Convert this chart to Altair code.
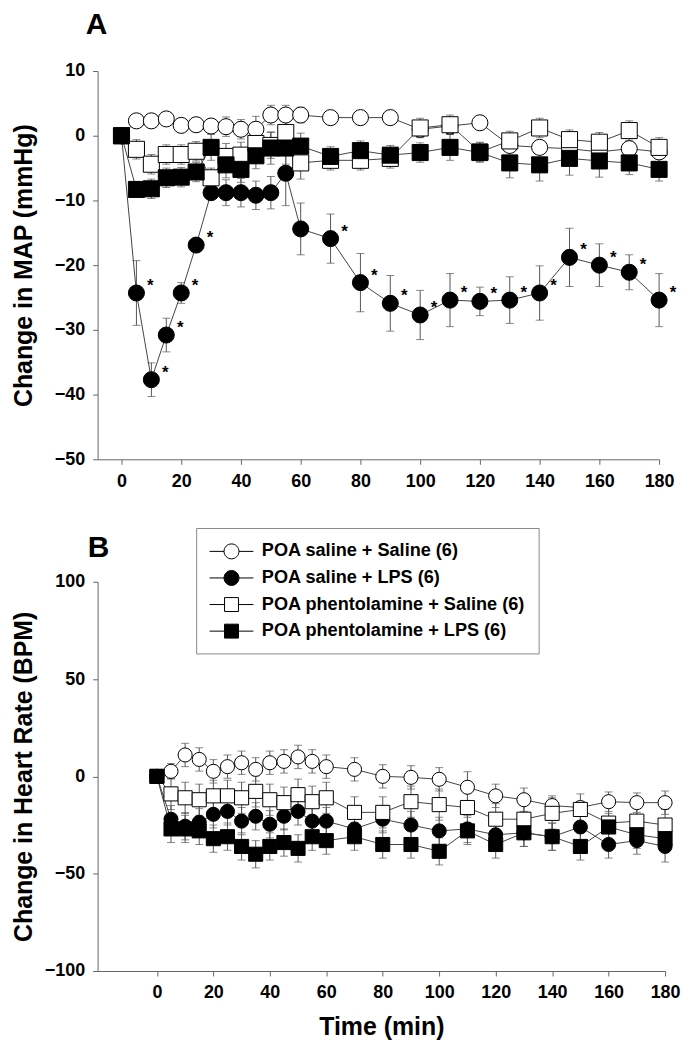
import altair as alt
import pandas as pd

# ---------------- data ----------------
times = [0, 5, 10, 15, 20, 25, 30, 35, 40, 45, 50, 55, 60,
         70, 80, 90, 100, 110, 120, 130, 140, 150, 160, 170, 180]

series_names = ["POA saline + Saline (6)", "POA saline  + LPS (6)",
                "POA phentolamine + Saline (6)", "POA phentolamine + LPS (6)"]

# Panel A: change in MAP (mmHg)
map_sal_sal = [0, 2.3, 2.3, 2.6, 1.6, 1.7, 1.5, 1.4, 1.0, 1.0, 3.2, 3.2, 3.2,
               2.8, 2.8, 2.8, 1.0, 1.5, 2.0, -1.5, -1.8, -2.0, -2.5, -2.0, -2.5]
map_sal_sal_sem = [0, 0.8, 0.8, 0.8, 0.8, 1.0, 1.0, 1.5, 1.5, 2.0, 1.5, 1.5, 1.2,
                   1.0, 1.0, 1.0, 1.2, 1.2, 1.0, 1.0, 1.0, 1.0, 1.0, 1.0, 1.0]
map_sal_lps = [0, -24.3, -37.7, -30.8, -24.3, -16.9, -8.8, -8.8, -8.8, -9.2, -8.8, -5.8, -14.4,
               -15.9, -22.7, -25.9, -27.7, -25.4, -25.6, -25.4, -24.3, -18.8, -20.0, -21.1, -25.4]
map_sal_lps_sem = [0, 5.0, 2.6, 2.6, 1.6, 0.6, 1.0, 2.0, 2.2, 2.2, 2.5, 5.0, 4.0,
                   3.8, 4.5, 4.3, 3.8, 4.1, 2.2, 3.6, 4.2, 4.5, 3.3, 2.7, 4.1]
map_pht_sal = [0, -2.1, -4.4, -2.9, -2.9, -2.4, -6.5, -3.2, -3.0, -1.2, -1.5, 0.5, -4.2,
               -3.8, -3.8, -3.5, 1.2, 1.7, -2.5, -0.8, 1.2, -0.6, -1.0, 0.8, -1.8]
map_pht_sal_sem = [0, 1.5, 1.5, 1.5, 1.5, 1.5, 1.5, 2.0, 2.0, 2.0, 2.0, 2.0, 2.5,
                   1.5, 1.5, 1.5, 1.5, 1.5, 1.5, 1.5, 1.5, 1.5, 1.5, 1.5, 1.5]
map_pht_lps = [0, -8.3, -8.2, -6.5, -6.4, -5.6, -1.8, -4.5, -5.2, -3.1, -1.9, -1.9, -1.6,
               -3.2, -2.3, -3.0, -2.6, -1.8, -2.6, -4.2, -4.5, -3.5, -3.9, -4.2, -5.2]
map_pht_lps_sem = [0, 1.2, 1.5, 1.5, 1.5, 1.5, 2.0, 2.0, 2.0, 2.0, 2.5, 2.5, 2.0,
                   1.5, 1.5, 1.5, 1.5, 2.0, 1.5, 2.3, 2.5, 2.6, 2.5, 1.8, 1.8]
star_times = [5, 10, 15, 20, 25, 70, 80, 90, 100, 110, 120, 130, 140, 150, 160, 170, 180]

# Panel B: change in heart rate (BPM)
hr_sal_sal = [0, 2.6, 11, 8.7, 2.6, 5, 7, 3.6, 7, 7.7, 10, 7.7, 5,
              3.6, 0, -0.5, -1.5, -5.6, -10, -12, -15, -16, -13, -13.5, -13.5]
hr_sal_sal_sem = [0, 4, 6, 6, 6, 6, 6, 6, 6, 6, 6, 6, 6,
                  6, 6, 6, 6, 8, 6, 6, 5, 3, 5, 5, 6]
hr_sal_lps = [0, -22, -25.6, -23.6, -19.5, -18, -23, -20.5, -24.6, -20.5, -18, -23, -23,
              -27, -22, -25, -28, -27, -30, -29, -31, -26, -35, -33, -36]
hr_sal_lps_sem = [0, 7, 7, 7, 7, 7, 7, 7, 7, 7, 7, 7, 7,
                  7, 7, 7, 7, 7, 7, 7, 7, 7, 7, 7, 8]
hr_pht_sal = [0, -9, -11, -12, -10, -10, -11, -7.7, -12, -13.5, -9.4, -13, -11,
              -18.5, -18.5, -13, -14.5, -16, -22, -22, -19, -17, -24, -23, -25]
hr_pht_sal_sem = [0, 8, 8, 8, 8, 8, 8, 8, 8, 8, 8, 8, 8,
                  8, 8, 8, 8, 8, 8, 8, 8, 8, 8, 8, 8]
hr_pht_lps = [0, -27, -27, -28, -32, -31, -36, -40, -36, -34, -37, -31, -33,
              -31, -35, -35, -38.5, -28, -35, -29, -31, -36, -26, -30, -32]
hr_pht_lps_sem = [0, 7, 7, 7, 7, 7, 7, 7, 7, 7, 7, 7, 7,
                  7, 7, 7, 7, 7, 7, 7, 7, 7, 7, 7, 7]

x_ticks = [0, 20, 40, 60, 80, 100, 120, 140, 160, 180]
yA_ticks = [-50, -40, -30, -20, -10, 0, 10]
yB_ticks = [-100, -50, 0, 50, 100]


def build_df(values, sems):
    rows = []
    for name, vals, ss in zip(series_names, values, sems):
        for t, v, s in zip(times, vals, ss):
            rows.append({"series": name, "time": t, "value": v,
                         "lo": v - s, "hi": v + s})
    return pd.DataFrame(rows)


dfA = build_df([map_sal_sal, map_sal_lps, map_pht_sal, map_pht_lps],
               [map_sal_sal_sem, map_sal_lps_sem, map_pht_sal_sem, map_pht_lps_sem])
dfB = build_df([hr_sal_sal, hr_sal_lps, hr_pht_sal, hr_pht_lps],
               [hr_sal_sal_sem, hr_sal_lps_sem, hr_pht_sal_sem, hr_pht_lps_sem])
dfA["ord"] = range(len(dfA))
dfB["ord"] = range(len(dfB))
df_star = dfA[(dfA["series"] == series_names[1]) & (dfA["time"].isin(star_times))]

FONT = "Liberation Sans"
shapes = ["circle", "circle", "square", "square"]
fills = ["white", "black", "white", "black"]
strokes = ["black", "black", "black", "black"]
legend_shapes = [
    "M-2.2,0H-0.75M0.75,0H2.2M-0.75,0A0.75,0.75 0 1,0 0.75,0A0.75,0.75 0 1,0 -0.75,0Z",
    "M-2.2,0H-0.75M0.75,0H2.2M-0.75,0A0.75,0.75 0 1,0 0.75,0A0.75,0.75 0 1,0 -0.75,0Z",
    "M-2.2,0H-0.7M0.7,0H2.2M-0.7,-0.7H0.7V0.7H-0.7Z",
    "M-2.2,0H-0.7M0.7,0H2.2M-0.7,-0.7H0.7V0.7H-0.7Z",
]


def panel(df, xdomain, ydomain, yticks, ytitle, ytpad, xtitle, sizes):
    xenc = alt.X("time:Q", scale=alt.Scale(domain=xdomain, nice=False, zero=False),
                 axis=alt.Axis(values=x_ticks, title=xtitle, grid=False,
                               labelFlush=False, titlePadding=13))
    yscale = alt.Scale(domain=ydomain, nice=False, zero=False)
    yenc = alt.Y("value:Q", scale=yscale,
                 axis=alt.Axis(values=yticks, title=ytitle, grid=False,
                               titlePadding=ytpad))
    base = alt.Chart(df)
    err = base.mark_rule(color="#555555", strokeWidth=1).encode(
        x=xenc, y=alt.Y("lo:Q", scale=yscale), y2="hi:Q", detail="series:N")
    cap_hi = base.mark_tick(color="#555555", thickness=1, size=8, orient="horizontal").encode(
        x=xenc, y=alt.Y("hi:Q", scale=yscale), detail="series:N")
    cap_lo = base.mark_tick(color="#555555", thickness=1, size=8, orient="horizontal").encode(
        x=xenc, y=alt.Y("lo:Q", scale=yscale), detail="series:N")
    line = base.mark_line(color="#444444", strokeWidth=1).encode(
        x=xenc, y=yenc, detail="series:N", order="time:Q")
    pts = base.mark_point(stroke="black", strokeWidth=1, opacity=1).encode(
        x=xenc, y=yenc,
        shape=alt.Shape("series:N", scale=alt.Scale(domain=series_names, range=shapes), legend=None),
        fill=alt.Fill("series:N", scale=alt.Scale(domain=series_names, range=fills), legend=None),
        size=alt.Size("series:N", scale=alt.Scale(domain=series_names, range=sizes), legend=None),
        order=alt.Order("ord:Q"),
    )
    return [err, cap_hi, cap_lo, line, pts], xenc, yenc


layersA, xA, yA = panel(dfA, [-8, 180], [-50, 10], yA_ticks,
                        "Change in MAP (mmHg)", 18, None, [260, 260, 190, 190])
stars = alt.Chart(df_star).mark_text(text="*", dx=14, dy=-7, fontSize=17,
                                     fontWeight="bold", font=FONT, color="black").encode(
    x=xA, y=yA)
panelA = alt.layer(*layersA, stars).properties(
    width=564, height=390,
    title=alt.TitleParams("A", anchor="start", frame="group", fontSize=30,
                          fontWeight="bold", font=FONT, dx=-12, offset=22, color="black"),
)

layersB, xB, yB = panel(dfB, [-21, 180], [-100, 100], yB_ticks,
                        "Change in Heart Rate (BPM)", 8, "Time (min)", [200, 200, 180, 180])
leg_props = dict(title=None, orient="none", legendX=99, legendY=-54,
                 strokeColor="#888888", fillColor="white", padding=13,
                 rowPadding=6.7, symbolSize=400, symbolOffset=12, labelOffset=20,
                 labelLimit=0, labelFontSize=18.2, labelFontWeight="bold", labelFont=FONT,
                 labelColor="black", symbolStrokeColor="black", symbolStrokeWidth=1,
                 symbolOpacity=1)
legend_layer = alt.Chart(dfB).transform_filter("false").mark_point(
    strokeWidth=1, opacity=1).encode(
    x=xB, y=yB,
    shape=alt.Shape("series:N", scale=alt.Scale(domain=series_names, range=legend_shapes),
                    legend=alt.Legend(**leg_props)),
    fill=alt.Fill("series:N", scale=alt.Scale(domain=series_names, range=fills),
                  legend=alt.Legend(**leg_props)),
    stroke=alt.Stroke("series:N", scale=alt.Scale(domain=series_names, range=strokes),
                      legend=alt.Legend(**leg_props)),
)
panelB = alt.layer(*layersB, legend_layer).resolve_scale(
    shape="independent", fill="independent", stroke="independent").properties(
    width=570, height=391,
    title=alt.TitleParams("B", anchor="start", frame="group", fontSize=30,
                          fontWeight="bold", font=FONT, dx=-10, offset=-36, color="black"),
)

chart = alt.concat(panelA, panelB, columns=1, spacing=37, align="none").resolve_scale(
    shape="independent", fill="independent", stroke="independent", size="independent"
).properties(
    padding={"left": 3, "top": 0, "right": 0, "bottom": 0}
).configure_view(stroke=None).configure_axis(
    domainColor="#666666", tickColor="#666666", tickSize=5,
    labelFont=FONT, labelFontSize=18, labelFontWeight="bold", labelColor="black",
    labelPadding=8,
    titleFont=FONT, titleFontSize=25, titleFontWeight="bold", titleColor="black",
)

chart.save("out.html", embed_options={"renderer": "svg", "actions": False})
